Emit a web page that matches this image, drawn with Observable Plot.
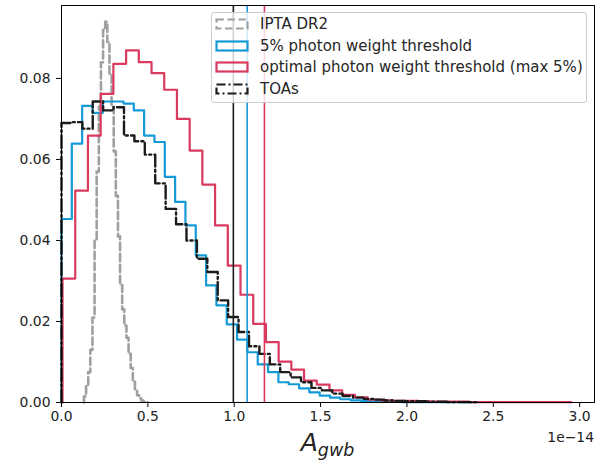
<!DOCTYPE html>
<html>
<head>
<meta charset="utf-8">
<script src="https://cdn.jsdelivr.net/npm/d3@7"></script>
<script src="https://cdn.jsdelivr.net/npm/@observablehq/plot@0.6"></script>
<style>
  html, body { margin: 0; padding: 0; background: white; }
  #wrap { position: relative; width: 611px; height: 461px; font-family: "DejaVu Sans", sans-serif; }
  #legend { position: absolute; left: 211px; top: 12px; width: 374px; height: 89px;
    background: rgba(255,255,255,0.8); border: 1px solid #cccccc; border-radius: 3px; }
  .row { position: absolute; left: 3px; height: 22px; display: flex; align-items: center;
    font-size: 15px; color: #262626; white-space: nowrap; }
  .row svg { margin-right: 11px; }
</style>
</head>
<body>
<div id="wrap"></div>
<script>
// ---- data ----
const xTicks = [0, 0.5, 1.0, 1.5, 2.0, 2.5, 3.0];
const yTicks = [0, 0.02, 0.04, 0.06, 0.08];

const seriesNames = ["IPTA DR2", "5% photon weight threshold", "optimal photon weight threshold (max 5%)", "TOAs"];

// IPTA DR2 histogram: first bin edge, bin width, heights
const iptaStart = 0.13;
const iptaWidth = 0.0123;
const iptaHeights = [0.0015,0.004,0.0075,0.013,0.021,0.040,0.057,0.073,0.084,0.092,0.094,0.089,0.081,0.073,0.062,0.051,0.041,0.029,0.023,0.019,0.016,0.012,0.0085,0.0055,0.003,0.0018,0.001,0.0005,0.0002,0.0001];

// 5% photon weight threshold
const blueStart = 0.0;
const blueWidth = 0.0598;
const blueHeights = [0.0453,0.0639,0.0732,0.0715,0.0743,0.0743,0.0738,0.0721,0.0659,0.0643,0.0557,0.0495,0.0437,0.0363,0.0289,0.0240,0.0193,0.0155,0.0124,0.0094,0.0075,0.0050,0.0045,0.0035,0.0025,0.0017,0.0012,0.0008,0.0005,0.0004,0.0003,0.0002,0.0002,0.0001,0.0001,0.0001,0.0001,0.0001,0.0001,0.0001];

// optimal photon weight threshold (max 5%)
const redStart = 0.006;
const redWidth = 0.0736;
const redHeights = [0.0306,0.0523,0.0659,0.0762,0.0836,0.0869,0.0840,0.0813,0.0772,0.0700,0.0622,0.0538,0.0437,0.0338,0.0266,0.0194,0.0149,0.0101,0.0081,0.0054,0.0044,0.0030,0.0019,0.0013,0.0007,0.0005,0.0004,0.0004,0.0003,0.0002,0.0002,0.0002,0.0001,0.0001,0.0001,0.0001,0.0001,0.0001,0.0001,0.0001];

// TOAs
const blackStart = 0.0;
const blackWidth = 0.0603;
const blackHeights = [0.0690,0.0692,0.0676,0.0743,0.0721,0.0729,0.0659,0.0645,0.0612,0.0541,0.0478,0.0440,0.0400,0.0355,0.0322,0.0252,0.0211,0.0174,0.0139,0.0120,0.0094,0.0075,0.0062,0.0050,0.0036,0.0030,0.0022,0.0016,0.0012,0.0009,0.0007,0.0005,0.0004,0.0003,0.0003,0.0002,0.0002,0.0001,0.0001,0.0001];

// upper limits (vertical lines)
const limitTOAs = 0.995;
const limitBlue = 1.075;
const limitRed = 1.175;

// ---- styles ----
const cGray = "#a0a0a0", cBlue = "#159ad8", cRed = "#da3a5e", cBlack = "#1c1c1c";
const dashGray = "7.4,3.6", dashBlack = "12.8,3.2,2,3.2";

function stepPoints(start, width, heights) {
  const pts = [{x: start, y: 0}];
  heights.forEach((h, i) => {
    pts.push({x: start + i * width, y: h});
    pts.push({x: start + (i + 1) * width, y: h});
  });
  pts.push({x: start + heights.length * width, y: 0});
  return pts;
}

const plot = Plot.plot({
  width: 611, height: 461,
  marginLeft: 61, marginRight: 17, marginTop: 5, marginBottom: 59,
  style: {fontFamily: "DejaVu Sans", fontSize: "13.9px", color: "#222", background: "white"},
  x: {domain: [0, 3.086]},
  y: {domain: [0, 0.098]},
  marks: [
    Plot.axisX({ticks: xTicks, tickFormat: d3.format(".1f"), tickSize: 5, tickPadding: 4, label: null, stroke: "black"}),
    Plot.axisY({ticks: yTicks, tickFormat: d3.format(".2f"), tickSize: 5, tickPadding: 6, label: null, stroke: "black"}),
    Plot.line(stepPoints(iptaStart, iptaWidth, iptaHeights), {x: "x", y: "y", stroke: cGray, strokeWidth: 2.6, strokeDasharray: dashGray}),
    Plot.line(stepPoints(blueStart, blueWidth, blueHeights), {x: "x", y: "y", stroke: cBlue, strokeWidth: 2.2}),
    Plot.line(stepPoints(redStart, redWidth, redHeights), {x: "x", y: "y", stroke: cRed, strokeWidth: 2.2}),
    Plot.line(stepPoints(blackStart, blackWidth, blackHeights), {x: "x", y: "y", stroke: cBlack, strokeWidth: 2.4, strokeDasharray: dashBlack}),
    Plot.ruleX([limitTOAs], {stroke: cBlack, strokeWidth: 1.6}),
    Plot.ruleX([limitBlue], {stroke: cBlue, strokeWidth: 1.6}),
    Plot.ruleX([limitRed], {stroke: cRed, strokeWidth: 1.6}),
    Plot.frame({stroke: "black", strokeWidth: 1})
  ]
});

const wrap = document.getElementById("wrap");
wrap.appendChild(plot);

// axis label A_gwb and offset text
const svg = d3.select(plot);
const xs = plot.scale("x");
const xc = (xs.range[0] + xs.range[1]) / 2;
const lab = svg.append("text")
  .attr("x", xc).attr("y", 451)
  .attr("text-anchor", "middle")
  .attr("font-family", "DejaVu Sans")
  .attr("font-style", "italic")
  .attr("font-size", 25)
  .attr("fill", "#222");
lab.append("tspan").text("A");
lab.append("tspan").attr("font-size", 17.5).attr("dy", 5).text("gwb");

svg.append("text")
  .attr("x", xs.range[1]).attr("y", 442)
  .attr("text-anchor", "end")
  .attr("font-family", "DejaVu Sans")
  .attr("font-size", 13.9)
  .attr("fill", "#222")
  .text("1e\u221214");

// legend
const legend = document.createElement("div");
legend.id = "legend";
const handles = [
  {stroke: cGray, dash: dashGray},
  {stroke: cBlue, dash: null},
  {stroke: cRed, dash: null},
  {stroke: cBlack, dash: "9,3,2,3"}
];
seriesNames.forEach((name, i) => {
  const row = document.createElement("div");
  row.className = "row";
  row.style.top = (i * 21.7) + "px";
  const h = handles[i];
  row.innerHTML = `<svg width="34" height="12"><rect x="1.5" y="1.5" width="31" height="9" fill="none" stroke="${h.stroke}" stroke-width="2.2" ${h.dash ? `stroke-dasharray="${h.dash}"` : ""}/></svg><span>${name}</span>`;
  legend.appendChild(row);
});
wrap.appendChild(legend);
</script>
</body>
</html>
